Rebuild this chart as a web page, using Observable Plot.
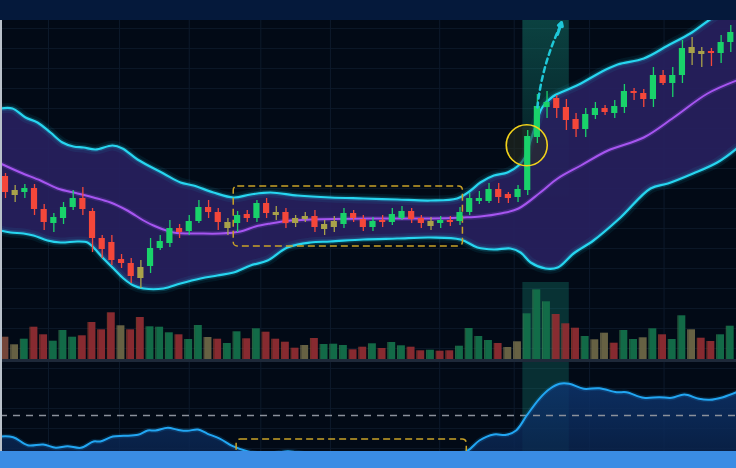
<!DOCTYPE html>
<html><head><meta charset="utf-8">
<script src="https://cdn.jsdelivr.net/npm/d3@7"></script>
<script src="https://cdn.jsdelivr.net/npm/@observablehq/plot@0.6"></script>
<style>
html,body{margin:0;padding:0;background:#020a16;}
#chart{position:relative;width:736px;height:468px;overflow:hidden;background:#020a16;font-family:Inter,sans-serif;}
#header{position:absolute;left:0;top:0;width:736px;height:20px;background:#05193b;}
#hgrid{position:absolute;left:0;top:20px;width:736px;height:432px;background:repeating-linear-gradient(180deg, transparent 0px, transparent 8px, #0b1727 8px, #0b1727 9px, transparent 9px, transparent 20px);}
.panel{position:absolute;left:0;width:736px;overflow:hidden;}
.panel svg{display:block;}
#edge{position:absolute;left:0;top:20px;width:2px;height:432px;background:#b9c1ca;}
#footer{position:absolute;left:0;top:451px;width:736px;height:17px;background:#3a8ce4;}
</style></head>
<body>
<div id="chart">
  <div id="header"></div>
  <div id="hgrid"></div>
  <div class="panel" id="vgrid" style="top:20px;height:432px"></div>
  <div class="panel" id="price" style="top:20px;height:280px"></div>
  <div class="panel" id="volume" style="top:280px;height:84px"></div>
  <div class="panel" id="osc" style="top:362px;height:90px"></div>
  <div id="edge"></div>
  <div id="footer"></div>
</div>
<script>
// ---------- DATA ----------
const openP  = [124,105,108,112,91,77,82,93,102,89, 62,58,41,37,22,34,52,57,72,69, 79,93,88,78,77,86,82,97,88,88, 77,81,84,71,73,76,87,81,73,80, 78,82,89,82,74,77,80,79,88,99, 99,111,106,103,110,163,193,202,193,181, 171,185,192,187,193,209,207,201,225,217, 225,253,249,249,247,258];
const closeP = [108,110,112,91,78,83,93,102,91,62, 51,40,37,24,33,52,59,72,68,79, 93,88,78,72,85,82,97,87,85,77, 82,84,73,76,79,87,82,73,79,78, 86,89,81,77,79,80,78,88,102,102, 111,103,102,111,164,194,198,192,180,171, 186,192,188,194,209,207,201,225,217,225, 252,247,246,247,258,268];
const highP  = [127,115,116,116,96,87,98,110,113,92, 65,65,46,42,40,62,65,80,76,85, 100,100,92,82,89,90,100,102,94,92, 85,88,90,80,84,92,90,85,83,85, 92,94,92,85,83,84,84,93,107,109, 117,117,108,115,170,206,209,205,201,187, 192,198,195,200,216,212,211,233,230,233, 260,263,253,252,265,275];
const lowP   = [102,98,102,85,70,68,76,90,85,48, 42,35,32,17,12,27,50,53,62,65, 77,82,70,65,68,78,78,82,80,72, 73,78,68,65,68,72,78,69,69,73, 75,80,77,72,70,72,74,75,85,96, 97,97,97,98,105,157,182,182,170,163, 163,181,185,182,187,200,193,193,215,203, 217,235,233,234,237,248];
const candleKind = ["d","m","u","d","d","u","u","u","d","d", "d","d","d","d","m","u","u","u","d","u", "u","d","d","m","u","d","u","d","m","d", "m","m","d","m","m","u","d","d","u","d", "u","u","d","d","m","u","d","u","u","u", "u","d","d","u","u","u","u","d","d","d", "u","u","d","u","u","d","d","u","d","u", "u","m","m","d","u","u"];

const volume = [23.3,15.7,21.3,33.3,25.7,19.3,30,23.3,24.7,38, 30.7,47.7,34.7,30.7,43,33.7,33.3,27.7,25.7,21, 35,23,21.3,17,28.7,21.7,31.7,28.3,21.3,18.3, 12.3,15,22,16,16.3,15,10.7,13.3,16.7,12, 18,14.7,13.3,9.7,10.3,9.3,9.7,14.3,32,24, 20,17,13,18.7,46.7,70.7,58.7,46,36.7,32.3, 24,20.7,27.3,17.3,30,21,22.7,31.7,25.7,21, 44.7,30.7,22.3,19,25.7,34.3];
const volumeKind = ["m","o","g","r","r","g","g","g","r","r", "r","r","o","r","r","g","g","g","r","g", "g","o","r","g","g","r","g","r","r","r", "r","o","r","g","g","g","r","r","g","r", "g","g","r","r","g","r","r","g","g","g", "g","r","o","o","g","g","g","r","r","r", "g","o","o","r","g","g","o","g","r","g", "g","o","r","r","g","g"];

const upperIdx = [-0.52,0.72,2.07,3.31,4.65,5.89,7.03,8.07,9.31,11.07,12.1,13.65,16.34,18.1,19.44,21.5,23.58,25.34,27.4,30.2,33.6,37.0,40.5,43.95,46.7,48.1,49.1,50.5,51.9,53.05,53.7,54.3,54.9,55.5,56.6,57.9,59.5,61.5,63.3,66.0,68.5,70.8,72.7,75.6];
const upperVal = [192,192,183,178,168,158,154,153,151,155,152,141,127,118,115,108,103,106,108,105,103,102,101,100,102,110,118,125,128,135,143,160,178,193,204,210,217,228,236,242,255,267,280,298];
const lowerIdx = [-0.52,0.52,1.86,2.9,4.34,5.69,7.45,8.48,9.1,10.13,11.17,12.2,13.24,14.27,16.34,18.1,20.17,21.9,23.58,25.34,27.1,29.16,31.54,33.6,37.0,40.5,43.95,47.05,48.8,50.5,52.2,53.26,54.3,55.84,57.1,58.74,60.8,63.6,66.7,68.5,71.1,73.6,75.6];
const lowerVal = [70,68,67,65,60,58,59,58,53,42,32,22,15,12,12,17,22,25,28,35,40,53,58,59,61,62,63,61,53,51,52,48,38,32,33,47,60,83,112,117,127,138,152];
const midIdx = [-0.52,1.55,3.62,5.38,7.45,9.1,10.86,12.6,14.27,15.3,17.37,20.17,22.23,24.3,25.85,27.4,29.47,31.54,37.75,43.95,47.36,49.1,51.2,53.05,55.3,57.1,59.5,62.3,66.0,69.1,72.6,75.6];
const midVal = [137,128,120,112,107,103,98,90,80,75,68,67,67,69,74,77,80,81,82,82,83,84,87,92,108,122,135,150,163,183,207,220];

const oscIdx = [-0.5,0.8,2.3,3.9,5.2,6.4,7.8,9.1,9.8,11.1,12.2,13.7,14.7,15.5,16.8,17.8,18.8,19.9,20.9,22.2,23.5,25.0,26.9,29.2,31.5,35.7,40.8,45,47.7,49.0,50.5,51.8,52.8,53.9,55.2,56.3,57.3,58.3,59.8,61.4,63.2,64.2,66.0,67.6,68.9,70.2,71.7,72.8,74.2,75.6];
const oscVal = [16,15.3,7.3,8,4.7,6.3,4.7,11,11,16,16.7,17.7,22,22,24.7,22.7,21.7,23,18.7,13.7,6.3,1.3,-2,1.3,-2,-4,-4,-3,1.3,12,18,17.7,22,37,53.7,63.7,68.7,68.7,63.7,64.3,60.3,60.3,54.7,55.3,54.7,58,53.7,52.7,55.3,60.3];
const oscSignal = 37;

const gridTicks = [4.45, 11.8, 19.0, 26.4, 33.6, 44.9, 52.6, 60.4, 68.1];
const highlight = {start: 53.5, end: 58.3};
const rangeBox = {start: 23.6, end: 47.3, top: 114, bottom: 54};
const oscBox = {start: 23.9, end: 47.7, top: 13, bottom: -20};
const breakout = {i: 53.9, price: 155.3};
const target = {x1: 55.0, y1: 193, x2: 57.5, y2: 277};
const targetHead = {x1: 57.08, y1: 266, x2: 57.5, y2: 278};

// ---------- DERIVED TABLES ----------
const candles = openP.map((o, i) => ({i, open: o, close: closeP[i], high: highP[i], low: lowP[i], kind: candleKind[i]}));
const vols = volume.map((v, i) => ({i, v, kind: volumeKind[i]}));
const upper = upperIdx.map((x, k) => ({x, y: upperVal[k]}));
const lower = lowerIdx.map((x, k) => ({x, y: lowerVal[k]}));
const mid = midIdx.map((x, k) => ({x, y: midVal[k]}));
const bandPoly = upper.concat(lower.slice().reverse());
const osc = oscIdx.map((x, k) => ({x, v: oscVal[k]}));

const candleColor = {u: "#19d26a", d: "#f4473a", m: "#a9a24a"};
const volColor = {g: "#13704a", r: "#8e2c31", o: "#6b6646", m: "#7a4a3c"};
const volEdge = {g: "#3f9a5c", r: "#c24c36", o: "#9a9060", m: "#a86a48"};
const xDomain = [-0.517, 75.59];
const curve = "catmull-rom";
const base = {width: 736, margin: 0, x: {domain: xDomain, axis: null}, style: {background: "transparent", overflow: "hidden"}};

function addGradient(svg, id, stops, x1, y1, x2, y2, units) {
  const defs = d3.select(svg).insert("defs", ":first-child");
  const g = defs.append("linearGradient").attr("id", id).attr("x1", x1).attr("y1", y1).attr("x2", x2).attr("y2", y2);
  if (units) g.attr("gradientUnits", units);
  stops.forEach(s => g.append("stop").attr("offset", s[0]).attr("stop-color", s[1]).attr("stop-opacity", s[2]));
}

// background vertical grid
const gridPlot = Plot.plot({...base, height: 432, y: {axis: null, domain: [0, 1]},
  marks: [Plot.ruleX(gridTicks, {stroke: "#0d1a2c", strokeWidth: 1})]});
document.getElementById("vgrid").append(gridPlot);

// price panel
const pricePlot = Plot.plot({...base, height: 280, y: {domain: [0, 280], axis: null},
  marks: [
    Plot.rect([highlight], {x1: "start", x2: "end", y1: 0, y2: 280, fill: "url(#hlGrad)"}),
    Plot.line(bandPoly, {x: "x", y: "y", fill: "#27215e", fillOpacity: 0.92, stroke: "none", curve}),
    Plot.line(upper, {x: "x", y: "y", stroke: "#22d3ee", strokeWidth: 10, strokeOpacity: 0.07, curve}),
    Plot.line(lower, {x: "x", y: "y", stroke: "#22d3ee", strokeWidth: 10, strokeOpacity: 0.07, curve}),
    Plot.line(upper, {x: "x", y: "y", stroke: "#22d3ee", strokeWidth: 5, strokeOpacity: 0.18, curve}),
    Plot.line(lower, {x: "x", y: "y", stroke: "#22d3ee", strokeWidth: 5, strokeOpacity: 0.18, curve}),
    Plot.line(mid, {x: "x", y: "y", stroke: "#a855f7", strokeWidth: 5, strokeOpacity: 0.18, curve}),
    Plot.line(upper, {x: "x", y: "y", stroke: "#27d6f0", strokeWidth: 2.2, curve}),
    Plot.line(lower, {x: "x", y: "y", stroke: "#27d6f0", strokeWidth: 2.2, curve}),
    Plot.line(mid, {x: "x", y: "y", stroke: "#a655f0", strokeWidth: 2, curve}),
    Plot.rect([rangeBox], {x1: "start", x2: "end", y1: "bottom", y2: "top", fill: "none", stroke: "#c9a227", strokeWidth: 1.5, strokeDasharray: "7,4", rx: 4}),
    Plot.dot([breakout], {x: "i", y: "price", r: 20.5, fill: "#2a2f22", fillOpacity: 0.55, stroke: "none"}),
    Plot.ruleX(candles, {x: "i", y1: "low", y2: "high", stroke: d => candleColor[d.kind], strokeWidth: 1.3}),
    Plot.rect(candles, {x1: d => d.i - 0.32, x2: d => d.i + 0.32, y1: "open", y2: "close", fill: d => candleColor[d.kind]}),
    Plot.dot([breakout], {x: "i", y: "price", r: 20.5, fill: "none", stroke: "#f2d21b", strokeWidth: 1.6}),
    Plot.arrow([target], {x1: "x1", y1: "y1", x2: "x2", y2: "y2", stroke: "#1fc8d8", strokeWidth: 2.5, strokeDasharray: "5,4", bend: 10, headLength: 0}),
    Plot.arrow([targetHead], {x1: "x1", y1: "y1", x2: "x2", y2: "y2", stroke: "#1fc8d8", strokeWidth: 3, headLength: 11})
  ]});
addGradient(pricePlot, "hlGrad", [[0, "#1a9c86", 0.38], [0.45, "#1a9c86", 0.18], [0.65, "#1a9c86", 0]], 0, 0, 0, 1);
document.getElementById("price").append(pricePlot);

// volume panel
const volPlot = Plot.plot({...base, height: 84, y: {domain: [-4, 80], axis: null},
  marks: [
    Plot.rect([highlight], {x1: "start", x2: "end", y1: 0, y2: 78, fill: "#1a9c86", fillOpacity: 0.28}),
    Plot.rect(vols, {x1: d => d.i - 0.35, x2: d => d.i + 0.35, y1: 0, y2: "v", fill: d => volColor[d.kind], fillOpacity: 0.95}),
    Plot.rect(vols, {x1: d => d.i - 0.47, x2: d => d.i - 0.35, y1: 0, y2: "v", fill: d => volEdge[d.kind], fillOpacity: 0.6}),
    Plot.ruleY([0], {stroke: "#1e2939", strokeWidth: 3})
  ]});
document.getElementById("volume").append(volPlot);

// oscillator panel
const oscPlot = Plot.plot({...base, height: 90, y: {domain: [0, 90], axis: null},
  marks: [
    Plot.rect([highlight], {x1: "start", x2: "end", y1: -10, y2: 100, fill: "#1a9c86", fillOpacity: 0.26}),
    Plot.areaY(osc, {x: "x", y1: -20, y2: "v", fill: "url(#oscGrad)", curve}),
    Plot.ruleY([oscSignal], {stroke: "#8b919b", strokeWidth: 1.6, strokeDasharray: "7,6"}),
    Plot.line(osc, {x: "x", y: "v", stroke: "#1ea3f0", strokeWidth: 5, strokeOpacity: 0.15, curve}),
    Plot.line(osc, {x: "x", y: "v", stroke: "#22a6f2", strokeWidth: 2, curve}),
    Plot.rect([oscBox], {x1: "start", x2: "end", y1: "bottom", y2: "top", fill: "none", stroke: "#c9a227", strokeWidth: 1.5, strokeDasharray: "7,4", rx: 4})
  ]});
addGradient(oscPlot, "oscGrad", [[0, "#0f3a78", 0.85], [1, "#0a2550", 0.8]], 0, 0, 0, 90, "userSpaceOnUse");
document.getElementById("osc").append(oscPlot);
</script>
</body></html>
